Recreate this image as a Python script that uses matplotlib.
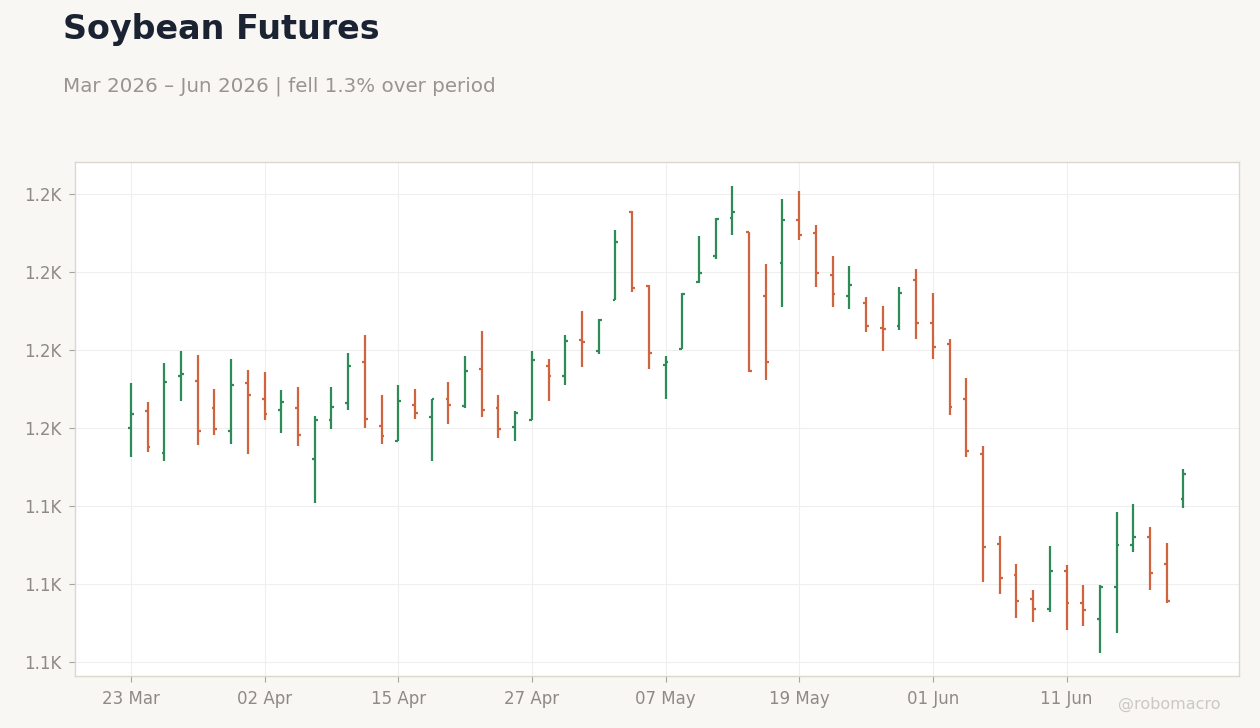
import matplotlib
matplotlib.use("Agg")
import matplotlib.pyplot as plt
import numpy as np
import pandas as pd
from matplotlib.ticker import FuncFormatter

# trading days (US holidays skipped: Good Friday, Memorial Day, Juneteenth)
holidays = ["2026-04-03", "2026-05-25", "2026-06-19"]
dates = pd.bdate_range("2026-03-23", periods=70, freq="C", holidays=holidays)[:64]

# OHLC values
opens = [1160.1, 1164.4, 1153.7, 1173.2, 1172.1, 1165.2, 1159.1, 1171.6, 1167.3, 1164.7,
         1165.0, 1152.1, 1162.1, 1166.5, 1177.0, 1160.6, 1156.7, 1166.0, 1162.9, 1167.3,
         1165.7, 1175.2, 1165.2, 1160.3, 1162.1, 1176.0, 1173.4, 1182.6, 1179.8, 1192.9,
         1215.5, 1196.4, 1176.2, 1180.3, 1197.3, 1204.2, 1213.9, 1210.3, 1193.9, 1202.4,
         1213.2, 1210.1, 1199.1, 1193.9, 1192.1, 1185.7, 1186.2, 1198.0, 1187.0, 1181.6,
         1167.5, 1153.4, 1130.3, 1122.4, 1116.2, 1113.7, 1123.4, 1115.0, 1111.1, 1119.1,
         1130.1, 1132.1, 1125.0, 1141.9]
highs = [1171.5, 1166.7, 1176.7, 1179.7, 1178.7, 1170.0, 1177.7, 1174.9, 1174.4, 1169.7,
         1170.5, 1163.0, 1170.5, 1179.2, 1183.8, 1168.5, 1171.0, 1170.0, 1167.4, 1171.8,
         1178.5, 1184.9, 1168.5, 1164.4, 1179.7, 1177.7, 1183.8, 1190.0, 1188.0, 1210.8,
         1215.6, 1196.6, 1178.5, 1194.5, 1209.2, 1213.8, 1222.1, 1210.3, 1202.1, 1218.7,
         1220.8, 1212.1, 1204.1, 1201.5, 1193.6, 1191.3, 1196.2, 1200.8, 1194.6, 1182.8,
         1172.9, 1155.4, 1132.3, 1125.1, 1118.5, 1129.8, 1124.9, 1119.7, 1119.7, 1138.5,
         1140.5, 1134.6, 1130.5, 1149.5]
lows = [1152.6, 1153.9, 1151.6, 1167.0, 1155.7, 1158.3, 1156.0, 1153.2, 1162.1, 1158.8,
        1155.5, 1140.7, 1159.8, 1164.7, 1160.1, 1156.0, 1156.7, 1162.4, 1151.5, 1161.1,
        1165.2, 1162.9, 1157.5, 1156.7, 1162.1, 1167.0, 1171.1, 1175.7, 1178.9, 1192.8,
        1194.8, 1175.2, 1167.5, 1180.2, 1197.1, 1203.2, 1209.5, 1174.4, 1172.4, 1191.1,
        1208.3, 1196.2, 1191.1, 1190.6, 1184.7, 1179.8, 1185.2, 1182.9, 1177.8, 1163.2,
        1152.6, 1120.6, 1117.5, 1111.4, 1110.3, 1112.9, 1108.3, 1109.3, 1102.4, 1107.5,
        1128.3, 1118.5, 1115.1, 1139.6]
closes = [1163.7, 1155.2, 1171.9, 1173.9, 1159.3, 1159.8, 1171.1, 1168.5, 1163.7, 1166.7,
          1158.3, 1162.1, 1165.5, 1176.0, 1162.4, 1158.0, 1167.0, 1163.9, 1167.4, 1166.0,
          1174.7, 1164.7, 1159.8, 1163.9, 1177.3, 1173.2, 1182.4, 1182.1, 1187.8, 1207.8,
          1196.0, 1179.1, 1177.0, 1194.4, 1199.8, 1213.7, 1215.5, 1174.6, 1177.0, 1213.2,
          1209.5, 1199.8, 1194.4, 1196.7, 1186.2, 1185.4, 1194.7, 1187.0, 1180.8, 1165.5,
          1154.2, 1129.6, 1121.6, 1115.7, 1113.7, 1123.2, 1115.0, 1113.4, 1119.3, 1130.1,
          1132.1, 1122.9, 1115.7, 1148.3]

up_color = "#2e8b57"
down_color = "#d0643f"
bg = "#f8f7f4"
grey = "#8f8a84"

x = np.arange(len(dates))
o = np.array(opens)
h = np.array(highs)
l = np.array(lows)
c = np.array(closes)
colors = [up_color if cc >= oo else down_color for oo, cc in zip(o, c)]

fig = plt.figure(figsize=(12.6, 7.28), dpi=100, facecolor=bg)
ax = fig.add_axes([0.0595, 0.0714, 0.9235, 0.7061])
ax.set_facecolor("white")

tick_w = 0.17
ax.vlines(x, l, h, colors=colors, linewidth=1.6, zorder=3)
ax.hlines(o, x - tick_w, x, colors=colors, linewidth=1.6, zorder=3)
ax.hlines(c, x, x + tick_w, colors=colors, linewidth=1.6, zorder=3)

ax.set_xlim(-3.35, 66.3)
ax.set_ylim(1096.4, 1228.2)

tick_idx = x[::8]
ax.set_xticks(tick_idx)
ax.set_xticklabels([dates[i].strftime("%d %b") for i in tick_idx])
ax.set_yticks(np.arange(1100, 1221, 20))
ax.yaxis.set_major_formatter(FuncFormatter(lambda v, p: f"{v / 1000:.1f}K"))

ax.grid(True, color="#efefef", linewidth=0.8, zorder=0)
ax.set_axisbelow(True)
for s in ax.spines.values():
    s.set_color("#dcd7cf")
    s.set_linewidth(1.0)
ax.tick_params(colors="#a8a39d", labelcolor=grey, labelsize=12, length=4, width=0.8)
ax.tick_params(axis="x", pad=6)
ax.tick_params(axis="y", pad=6)

fig.text(0.05, 0.96, "Soybean Futures", fontsize=24, fontweight="bold",
         color="#1b2333", va="center", ha="left")
fig.text(0.05, 0.882, "Mar 2026 \u2013 Jun 2026 | fell 1.3% over period", fontsize=14.3,
         color="#9a948e", va="center", ha="left")
fig.text(0.969, 0.032, "@robomacro", fontsize=11.5, color="#ccc8c2", ha="right", va="center")

fig.savefig("out.png", dpi=100, facecolor=bg)
